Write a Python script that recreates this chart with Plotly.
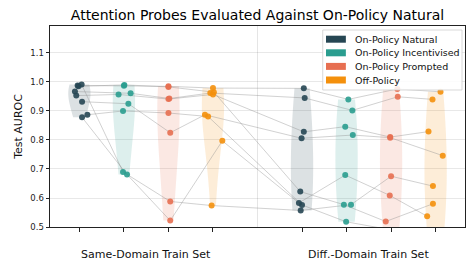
import numpy as np
import plotly.graph_objects as go

# ---------------- data ----------------
categories = ["On-Policy Natural", "On-Policy Incentivised", "On-Policy Prompted", "Off-Policy"]
groups = ["Same-Domain Train Set", "Diff.-Domain Train Set"]
colors = ["#264653", "#2a9d8f", "#e76f51", "#f4900c"]

# Test AUROC of each probe for the 8 evaluation columns:
# same-domain (Natural, Incentivised, Prompted, Off-Policy), then diff-domain (same order)
probe_1 = [0.988, 0.987, 0.985, 0.979, 0.978, 0.940, 0.976, 0.966]
probe_2 = [0.967, 0.961, 0.943, 0.962, 0.945, 0.902, 0.949, 0.940]
probe_3 = [0.953, 0.957, 0.941, 0.957, 0.828, 0.846, 0.810, 0.829]
probe_4 = [0.985, 0.990, 0.983, 0.965, 0.622, 0.577, 0.519, 0.580]
probe_5 = [0.887, 0.900, 0.893, 0.881, 0.576, 0.518, 0.490, 0.470]
probe_6 = [0.932, 0.925, 0.825, 0.887, 0.806, 0.817, 0.808, 0.746]
probe_7 = [0.878, 0.681, 0.522, 0.797, 0.583, 0.679, 0.609, 0.537]
probe_8 = [0.991, 0.690, 0.588, 0.574, 0.557, 0.577, 0.675, 0.641]
probes = [probe_1, probe_2, probe_3, probe_4, probe_5, probe_6, probe_7, probe_8]

y_ticks = [0.5, 0.6, 0.7, 0.8, 0.9, 1.0, 1.1]

# ---------------- style ----------------
xpos = [0, 1, 2, 3, 5, 6, 7, 8]          # category slots on the x axis
jitter = [                                 # horizontal strip jitter (style)
    [-0.04, 0.00, 0.00, 0.00, 0.04, 0.04, 0.14, 0.11],
    [-0.10, 0.15, 0.02, -0.06, 0.06, 0.13, 0.15, -0.07],
    [-0.07, -0.12, 0.00, 0.00, 0.04, -0.03, -0.02, -0.16],
    [-0.02, 0.01, 0.00, 0.02, -0.04, -0.06, -0.12, -0.06],
    [0.18, -0.02, 0.00, -0.11, 0.00, -0.01, 0.00, 0.00],
    [0.06, 0.10, 0.04, -0.18, -0.01, 0.14, -0.02, 0.16],
    [0.06, 0.07, 0.04, 0.21, -0.07, -0.03, -0.03, -0.19],
    [0.05, -0.02, 0.04, -0.03, -0.03, 0.10, 0.00, -0.06],
]
FONT = "DejaVu Sans"
OFF = 8                      # browser body margin
W, H = 476 - OFF, 272 - OFF
L, R, T, B = 48 - OFF, 10, 26 - OFF, 45
pw, ph = W - L - R, H - T - B


def px(x):      # page pixel x -> paper
    return (x - OFF - L) / pw


def py(y):      # page pixel y -> paper
    return (H - B - (y - OFF)) / ph


def rgba(hexc, a):
    hexc = hexc.lstrip("#")
    r, g, b = (int(hexc[i:i + 2], 16) for i in (0, 2, 4))
    return f"rgba({r},{g},{b},{a})"


fig = go.Figure()

# violins
for j, xp in enumerate(xpos):
    vals = np.array([p[j] for p in probes])
    c = colors[j % 4]
    bw = 1.7 * vals.std(ddof=1) * len(vals) ** (-0.2)
    fig.add_trace(go.Violin(
        x=[xp] * len(vals), y=vals, width=0.5, spanmode="hard", points=False,
        fillcolor=rgba(c, 0.16), line=dict(width=0, color=rgba(c, 0)),
        bandwidth=bw, scalemode="width", showlegend=False, hoverinfo="skip",
        box_visible=False, meanline_visible=False,
    ))

# connecting lines per probe
for i, p in enumerate(probes):
    fig.add_trace(go.Scatter(
        x=[xpos[j] + jitter[i][j] for j in range(8)], y=p, mode="lines",
        line=dict(color="rgba(140,140,140,0.45)", width=0.9),
        showlegend=False, hoverinfo="skip",
    ))

# points per category column
for j, xp in enumerate(xpos):
    fig.add_trace(go.Scatter(
        x=[xp + jitter[i][j] for i in range(len(probes))],
        y=[p[j] for p in probes], mode="markers",
        marker=dict(color=colors[j % 4], size=6, opacity=0.9, line=dict(width=0)),
        showlegend=False,
    ))

shapes = []
annotations = []

# divider between train-set groups
shapes.append(dict(type="line", xref="x", yref="paper", x0=4, x1=4, y0=0, y1=1,
                   line=dict(color="rgba(0,0,0,0.10)", width=1), layer="below"))

# group labels
for g, xc in zip(groups, [1.5, 6.5]):
    annotations.append(dict(text=g, xref="x", yref="paper", x=xc, y=py(254),
                            xanchor="center", yanchor="middle", showarrow=False,
                            font=dict(family=FONT, size=11, color="#111")))

# legend (drawn manually to mimic the original box)
shapes.append(dict(type="rect", xref="paper", yref="paper",
                   x0=px(322.7), x1=px(463), y0=py(90), y1=py(30),
                   line=dict(color="#cfcfcf", width=0.8),
                   fillcolor="rgba(255,255,255,0.85)", layer="above"))
for k, (name, c) in enumerate(zip(categories, colors)):
    yc = [39.2, 52.8, 66.4, 80.0][k]
    shapes.append(dict(type="rect", xref="paper", yref="paper",
                       x0=px(326), x1=px(346), y0=py(yc + 3.5), y1=py(yc - 3.5),
                       line=dict(width=0), fillcolor=c, layer="above"))
    annotations.append(dict(text=name, xref="paper", yref="paper", x=px(353), y=py(yc),
                            xanchor="left", yanchor="middle", showarrow=False,
                            font=dict(family=FONT, size=9.5, color="#111")))

fig.update_layout(
    width=W, height=H,
    margin=dict(l=L, r=R, t=T, b=B),
    paper_bgcolor="white", plot_bgcolor="white",
    violinmode="overlay",
    showlegend=False,
    title=dict(text="Attention Probes Evaluated Against On-Policy Natural",
               x=0.5, xref="paper", y=1 - (15 - OFF) / H, yref="container",
               xanchor="center", yanchor="middle",
               font=dict(family=FONT, size=14, color="#000")),
    font=dict(family=FONT, color="#222"),
    shapes=shapes, annotations=annotations,
)
fig.update_xaxes(range=[-0.66, 8.66], tickvals=xpos, ticktext=[""] * len(xpos),
                 ticks="outside", ticklen=4, tickcolor="#222", showgrid=False,
                 zeroline=False, showline=True, linecolor="#222", linewidth=1, mirror=True)
fig.update_yaxes(range=[0.5, 1.193], tickvals=y_ticks, ticktext=[f"{v:.1f}" for v in y_ticks],
                 ticks="outside", ticklen=3.5, tickcolor="#222",
                 tickfont=dict(family=FONT, size=8.5, color="#222"),
                 showgrid=True, gridcolor="rgba(0,0,0,0.09)", gridwidth=1,
                 zeroline=False, showline=True, linecolor="#222", linewidth=1, mirror=True,
                 title=dict(text="Test AUROC", font=dict(family=FONT, size=11, color="#111"),
                            standoff=5))

fig.write_html("out.html")
